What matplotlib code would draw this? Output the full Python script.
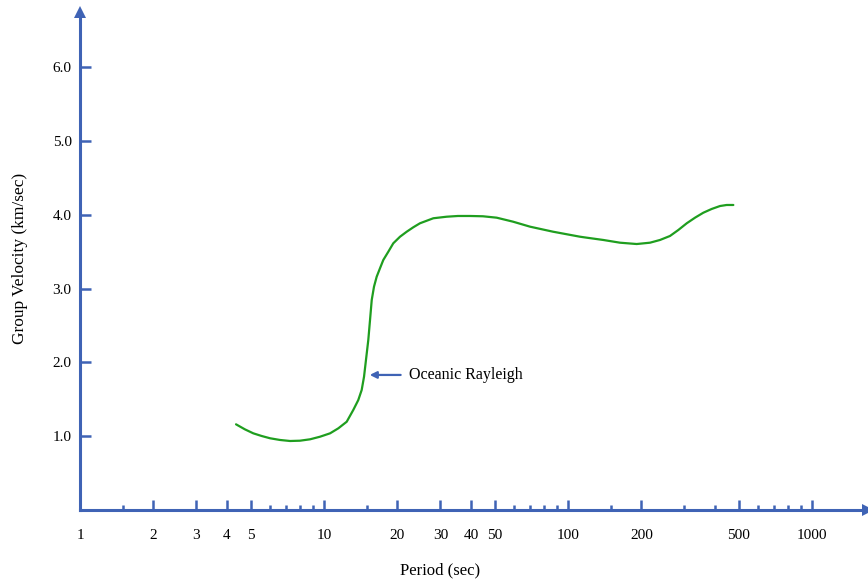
import numpy as np
import matplotlib
matplotlib.use("Agg")
import matplotlib.pyplot as plt
from matplotlib.ticker import FixedLocator, FixedFormatter, NullFormatter

# Data
period = [4.36, 4.74, 5.13, 5.55, 6.01, 6.60, 7.26, 7.97, 8.77, 9.63, 10.59, 11.45, 12.39,
          13.18, 13.82, 14.27, 14.59, 14.86, 15.19, 15.44, 15.69, 16.03, 16.44, 16.96,
          17.50, 18.35, 19.23, 20.49, 21.83, 23.23, 24.73, 28.05, 31.8, 35.4, 39.7,
          44.8, 51.0, 59.5, 69.9, 86.8, 112, 119.3, 139.5, 163.3, 191.2, 216.8, 238.3,
          261.8, 283.2, 306.6, 331.6, 358.5, 388, 419.8, 446.9, 476]
velocity = [1.161, 1.093, 1.039, 1.003, 0.972, 0.949, 0.935, 0.939, 0.958, 0.993, 1.039,
            1.107, 1.196, 1.355, 1.49, 1.626, 1.806, 2.033, 2.304, 2.575, 2.846, 3.026,
            3.161, 3.275, 3.388, 3.50, 3.614, 3.703, 3.771, 3.831, 3.885, 3.953, 3.974,
            3.984, 3.984, 3.980, 3.961, 3.907, 3.839, 3.771, 3.703, 3.690, 3.659, 3.622,
            3.604, 3.622, 3.659, 3.713, 3.794, 3.885, 3.961, 4.028, 4.079, 4.119, 4.133,
            4.133]

x_major = [2, 3, 4, 5, 10, 20, 30, 40, 50, 100, 200, 500, 1000]
x_minor = [1.5, 6, 7, 8, 9, 15, 60, 70, 80, 90, 150, 300, 400, 600, 700, 800, 900]
x_labels = ["1", "2", "3", "4", "5", "10", "20", "30", "40", "50", "100", "200", "500", "1000"]
y_ticks = [1, 2, 3, 4, 5, 6]
y_labels = ["1.0", "2.0", "3.0", "4.0", "5.0", "6.0"]

blue = "#3f63b5"
green = "#1f9e1f"

plt.rcParams['font.family'] = ['Liberation Serif', 'DejaVu Serif']

W, H = 868, 581
fig = plt.figure(figsize=(W / 100, H / 100), dpi=100)
x0, x1, yb, yt = 80, 868, 510, 12
ax = fig.add_axes([x0 / W, (H - yb) / H, (x1 - x0) / W, (yb - yt) / H])

ax.plot(period, velocity, color=green, lw=1.6, solid_capstyle='round',
        solid_joinstyle='round')

ax.set_xscale('log')
ax.set_xlim(1, 10 ** ((x1 - x0) / 244.0))
ax.set_ylim(0, (yb - yt) / 73.8)

for s in ['top', 'right']:
    ax.spines[s].set_visible(False)
for s in ['left', 'bottom']:
    ax.spines[s].set_color(blue)
    ax.spines[s].set_linewidth(2.2)

# arrow heads on axes
ax.plot([1], [1.0], marker='^', transform=ax.get_xaxis_transform(), clip_on=False,
        color=blue, markersize=8, markeredgewidth=0)
ax.plot([1.0], [0], marker='>', transform=ax.get_yaxis_transform(), clip_on=False,
        color=blue, markersize=8, markeredgewidth=0)

ax.xaxis.set_major_locator(FixedLocator([1] + x_major))
ax.xaxis.set_major_formatter(FixedFormatter(x_labels))
ax.xaxis.set_minor_locator(FixedLocator(x_minor))
ax.xaxis.set_minor_formatter(NullFormatter())
ax.tick_params(axis='x', which='major', direction='in', length=7, width=1.8,
               color=blue, pad=14, labelsize=11)
ax.tick_params(axis='x', which='minor', direction='in', length=3.6, width=1.8, color=blue)

ax.set_yticks(y_ticks)
ax.set_yticklabels(y_labels)
ax.tick_params(axis='y', which='major', direction='in', length=8, width=1.8,
               color=blue, pad=6, labelsize=11)

# hide the tick at 1 (origin)
ax.xaxis.get_major_ticks()[0].tick1line.set_visible(False)

ax.set_xlabel("Period (sec)", fontsize=12)
ax.xaxis.set_label_coords((440 - x0) / (x1 - x0), -(562 - yb) / (yb - yt))
ax.set_ylabel("Group Velocity (km/sec)", fontsize=12.5)
ax.yaxis.set_label_coords(-(x0 - 28) / (x1 - x0), (yb - 258) / (yb - yt))

ax.annotate("Oceanic Rayleigh", xy=(15.4, 1.83), xytext=(22.3, 1.83),
            fontsize=11.5, va='center', ha='left',
            arrowprops=dict(arrowstyle='-|>', color=blue, lw=1.6,
                            shrinkA=4, shrinkB=0, mutation_scale=10))

fig.savefig("out.png", dpi=100)
